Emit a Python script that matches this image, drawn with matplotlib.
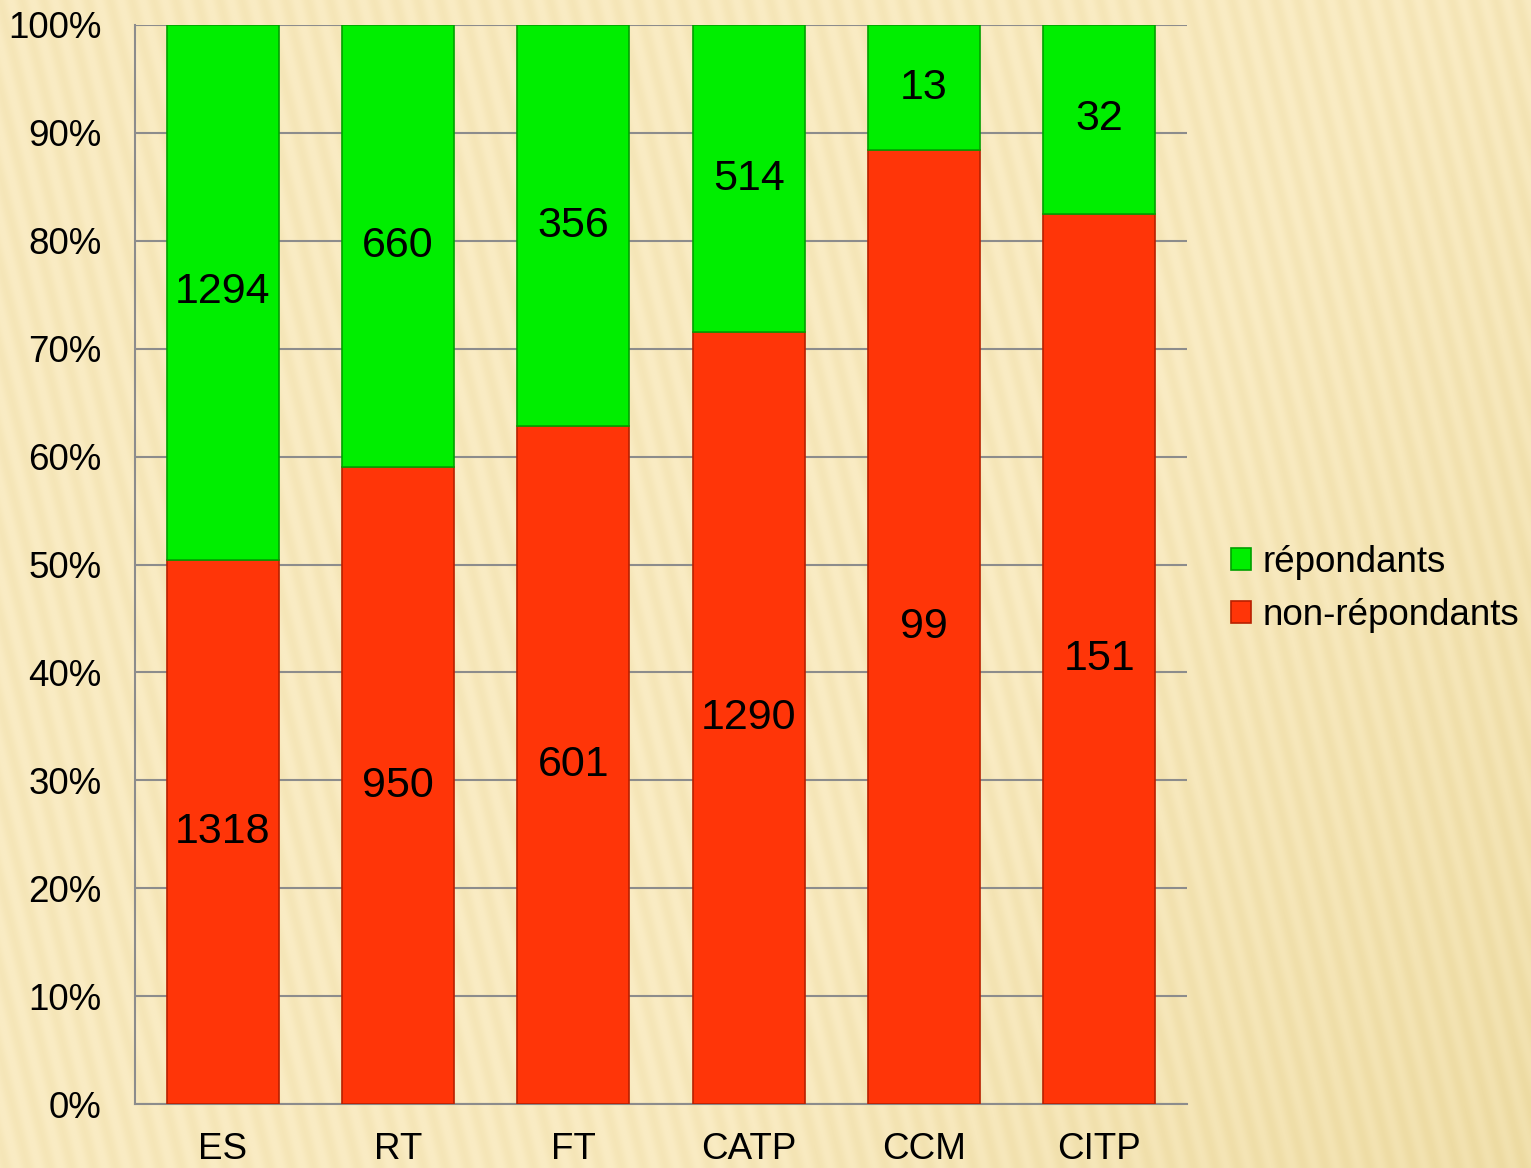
import numpy as np
import matplotlib
matplotlib.use("Agg")
import matplotlib.pyplot as plt

# données
categories = ["ES", "RT", "FT", "CATP", "CCM", "CITP"]
non_repondants = [1318, 950, 601, 1290, 99, 151]
repondants = [1294, 660, 356, 514, 13, 32]

nr = np.array(non_repondants, dtype=float)
rp = np.array(repondants, dtype=float)
total = nr + rp
pct_nr = nr / total
pct_rp = rp / total

plt.rcParams['font.family'] = ['Liberation Sans', 'DejaVu Sans']

fig = plt.figure(figsize=(15.31, 11.68), dpi=100)

# fond beige rayé
bg = fig.add_axes([0, 0, 1, 1], zorder=-10)
h, w = 1168, 1531
yy, xx = np.mgrid[0:h, 0:w]
base = np.array([250, 236, 196]) / 255.0
stripe = 0.5 + 0.5 * np.sin(2 * np.pi * (xx + 0.25 * (h - yy)) / 22.0)
shade = np.clip((xx / w - 0.75) * 1.2 + (yy / h - 0.35) * 0.6, 0, 1) * 0.08
img = base[None, None, :] - (stripe * 0.03 + shade)[:, :, None] * np.array([0.6, 0.8, 1.6])
bg.imshow(np.clip(img, 0, 1), aspect='auto', extent=[0, 1, 0, 1])
bg.axis('off')

ax = fig.add_axes([135 / 1531, 64 / 1168, (1187 - 135) / 1531, (1104 - 25) / 1168])
ax.patch.set_alpha(0)

x = np.arange(len(categories))
width = 0.64
b1 = ax.bar(x, pct_nr, width, color='#FF3508', edgecolor='#B82000', linewidth=1.2,
            label='non-répondants', zorder=3)
b2 = ax.bar(x, pct_rp, width, bottom=pct_nr, color='#00EE00', edgecolor='#00A000',
            linewidth=1.2, label='répondants', zorder=3)

ax.bar_label(b1, labels=[str(v) for v in non_repondants], label_type='center', fontsize=31)
ax.bar_label(b2, labels=[str(v) for v in repondants], label_type='center', fontsize=31)

ax.set_xlim(-0.5, len(categories) - 0.5)
ax.set_ylim(0, 1)
ticks = np.linspace(0, 1, 11)
ax.set_yticks(ticks)
ax.set_yticklabels([f"{int(round(v * 100))}%" for v in ticks], fontsize=26.5)
ax.set_xticks(x)
ax.set_xticklabels(categories, fontsize=26.5)
ax.tick_params(axis='both', length=0)
ax.tick_params(axis='y', pad=24)
ax.tick_params(axis='x', pad=20)

ax.grid(axis='y', color='#8C8C8C', linewidth=1.5, zorder=0)
for s in ['top', 'right']:
    ax.spines[s].set_visible(False)
for s in ['left', 'bottom']:
    ax.spines[s].set_color('#8C8C8C')
    ax.spines[s].set_linewidth(1.5)

handles, labels = ax.get_legend_handles_labels()
leg = fig.legend(handles[::-1], labels[::-1], loc='center left',
                 bbox_to_anchor=(1231 / 1531, 1 - 589 / 1168),
                 frameon=False, fontsize=26.5, handlelength=0.55, handleheight=0.55,
                 handletextpad=0.3, labelspacing=0.5, borderpad=0, borderaxespad=0)

fig.savefig("out.png", dpi=100)
